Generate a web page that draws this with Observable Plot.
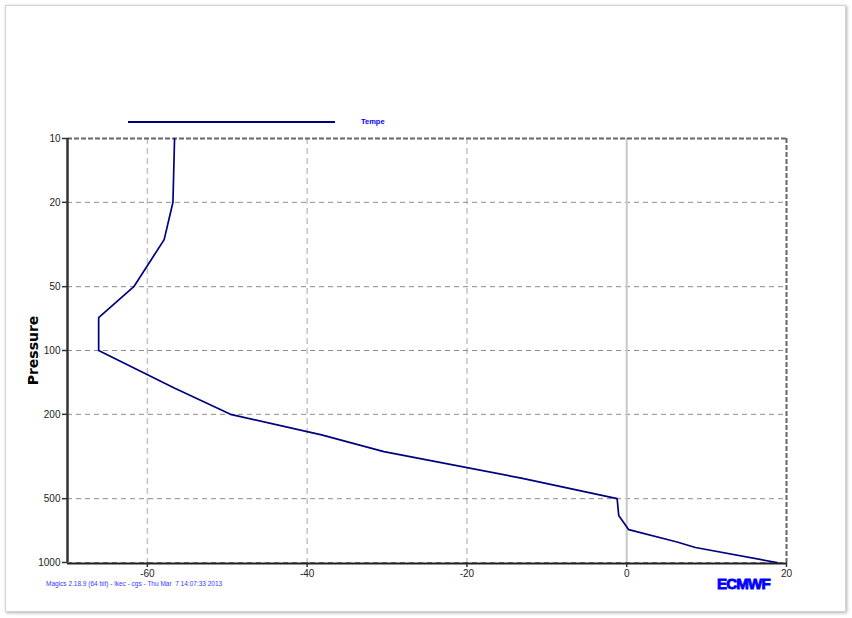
<!DOCTYPE html>
<html>
<head>
<meta charset="utf-8">
<script src="https://cdn.jsdelivr.net/npm/d3@7"></script>
<script src="https://cdn.jsdelivr.net/npm/@observablehq/plot@0.6"></script>
<style>
  html, body { margin: 0; padding: 0; background: #fff; }
  body { width: 852px; height: 618px; position: relative; overflow: hidden; font-family: "Liberation Sans", Arial, sans-serif; }
  #box { position: absolute; left: 5px; top: 5px; width: 839px; height: 605px; border: 1px solid #d4d4d4; box-shadow: 1px 1px 3px #b0b0b0; background: #fff; }
  #chart { position: absolute; left: 0; top: 0; }
  #legline { position: absolute; left: 128px; top: 121px; width: 207px; height: 0; border-top: 2px solid #000080; }
  #legtext { position: absolute; left: 361px; top: 117px; font: bold 7.5px "Liberation Sans", Arial, sans-serif; color: #0000ff; }
  #caption { position: absolute; left: 46px; top: 580px; font: 6.5px "Liberation Sans", Arial, sans-serif; color: #3a3aff; white-space: pre; }
  #logo { position: absolute; left: 717px; top: 576px; font: 900 14px "Liberation Sans", Arial, sans-serif; color: #0000ff; letter-spacing: -0.8px; -webkit-text-stroke: 0.8px #0000ff; transform: scaleX(1.08); transform-origin: left center; }
</style>
</head>
<body>
<div id="box"></div>
<div id="chart"></div>
<div id="legline"></div>
<div id="legtext">Tempe</div>
<div id="caption">Magics 2.18.9 (64 bit) - lkec - cgs - Thu Mar  7 14:07:33 2013</div>
<div id="logo">ECMWF</div>
<script>
const pressure    = [10, 20, 30, 50, 70, 100, 150, 200, 250, 300, 400, 500, 600, 700, 800, 850, 1000];
const temperature = [-56.6, -56.8, -57.9, -61.7, -66.1, -66.1, -56.7, -49.6, -38.2, -30.4, -13.2, -1.2, -1.0, 0.25, 6.3, 8.6, 18.8];
const xTicks = [-60, -40, -20, 0, 20];
const yTicks = [10, 20, 50, 100, 200, 500, 1000];
const seriesName = "Tempe";
const axisTitle = "Pressure";

const data = pressure.map((p, i) => ({p, t: temperature[i]}));

const chart = Plot.plot({
  width: 852,
  height: 618,
  marginLeft: 67,
  marginRight: 66,
  marginTop: 138,
  marginBottom: 56,
  style: {background: "transparent", fontFamily: "'Liberation Sans', Arial, sans-serif", fontSize: "10px", color: "#333"},
  x: {domain: [-70, 20]},
  y: {type: "log", domain: [10, 1000], reverse: true},
  marks: [
    Plot.gridX(xTicks.filter(d => d !== 0 && d !== 20), {stroke: "#c4c4c4", strokeOpacity: 1, strokeWidth: 1.5, strokeDasharray: "6,4"}),
    Plot.gridY(yTicks.filter(d => d !== 10 && d !== 1000), {stroke: "#8c8c8c", strokeOpacity: 1, strokeWidth: 1, strokeDasharray: "5,4"}),
    Plot.ruleX([0], {stroke: "#c8c8c8", strokeWidth: 2}),
    Plot.ruleY([1000], {stroke: "#8c8c8c", strokeDasharray: "5,4"}),
    Plot.ruleY([10], {stroke: "#666", strokeWidth: 2, strokeDasharray: "5,2"}),
    Plot.ruleX([20], {stroke: "#666", strokeWidth: 2, strokeDasharray: "5,2"}),
    Plot.ruleX([-70], {stroke: "#333", strokeWidth: 2.5}),
    Plot.ruleY([1000], {stroke: "#222", strokeWidth: 2, dy: 1}),
    Plot.line(data, {x: "t", y: "p", stroke: "#000080", strokeWidth: 1.7, curve: "linear"}),
    Plot.axisY(yTicks, {tickSize: 5, tickPadding: 2, tickFormat: d => String(d), label: null, stroke: "#333", strokeWidth: 1.5, fill: "#222", fontSize: 10}),
    Plot.axisX(xTicks, {tickSize: 5, tickPadding: 2, tickFormat: d => String(d), label: null, stroke: "#333", strokeWidth: 1.5, fill: "#222", fontSize: 10}),
    Plot.text([axisTitle], {frameAnchor: "left", dx: -34, rotate: -90, textAnchor: "middle", fontWeight: "bold", fontSize: 14, fill: "#000", fontFamily: "'DejaVu Sans', sans-serif"})
  ]
});
document.getElementById("chart").appendChild(chart);
document.getElementById("legtext").textContent = seriesName;
</script>
</body>
</html>
